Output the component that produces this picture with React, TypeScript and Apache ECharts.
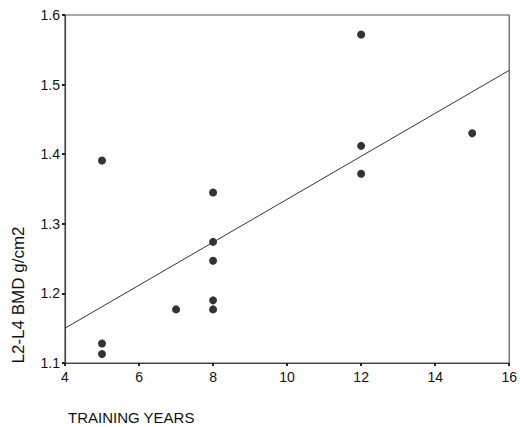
import React, { useEffect, useRef } from "react";
import * as echarts from "echarts";

const trainingYears = [5, 5, 5, 7, 8, 8, 8, 8, 8, 12, 12, 12, 15];
const bmdValues = [1.391, 1.128, 1.113, 1.177, 1.345, 1.274, 1.247, 1.19, 1.177, 1.572, 1.412, 1.372, 1.43];
const fitX = [4, 16];
const fitY = [1.15, 1.5205];
const xTicks = [4, 6, 8, 10, 12, 14, 16];
const yTicks = [1.1, 1.2, 1.3, 1.4, 1.5, 1.6];
const yLabel = "L2-L4 BMD g/cm2";
const xLabel = "TRAINING YEARS";

const FONT = "'Liberation Sans', Arial, sans-serif";

export default function App() {
  const ref = useRef<HTMLDivElement>(null);
  useEffect(() => {
    if (!ref.current) return;
    const chart = echarts.init(ref.current, null, { renderer: "svg" });
    const axisLine = { show: true, lineStyle: { color: "#444", width: 1.2 } };
    chart.setOption({
      animation: false,
      backgroundColor: "#fff",
      grid: {
        left: 65,
        top: 15,
        right: 8,
        bottom: 64,
        show: true,
        borderColor: "#555",
        borderWidth: 1.2,
        backgroundColor: "transparent",
      },
      xAxis: {
        type: "value",
        min: xTicks[0],
        max: xTicks[xTicks.length - 1],
        interval: 2,
        axisLine,
        axisTick: { show: true, length: 3, lineStyle: { color: "#222", width: 2 } },
        splitLine: { show: false },
        axisLabel: {
          color: "#111",
          fontFamily: FONT,
          fontSize: 14,
          margin: 7,
        },
      },
      yAxis: {
        type: "value",
        min: yTicks[0],
        max: yTicks[yTicks.length - 1],
        interval: 0.1,
        axisLine,
        axisTick: { show: true, length: 3, lineStyle: { color: "#222", width: 2 } },
        splitLine: { show: false },
        axisLabel: {
          color: "#111",
          fontFamily: FONT,
          fontSize: 14,
          margin: 5,
          formatter: (v: number) => v.toFixed(1),
        },
      },
      graphic: [
        {
          type: "text",
          x: 18,
          y: 295,
          rotation: Math.PI / 2,
          style: {
            text: yLabel,
            fill: "#111",
            font: `17px ${FONT}`,
            textAlign: "center",
            textVerticalAlign: "middle",
          },
        },
        {
          type: "text",
          x: 68,
          y: 417,
          style: {
            text: xLabel,
            fill: "#111",
            font: `15px ${FONT}`,
            textAlign: "left",
            textVerticalAlign: "middle",
          },
        },
      ],
      series: [
        {
          type: "line",
          data: fitX.map((x, i) => [x, fitY[i]]),
          symbol: "none",
          lineStyle: { color: "#333", width: 1 },
          silent: true,
        },
        {
          type: "scatter",
          data: trainingYears.map((x, i) => [x, bmdValues[i]]),
          symbol: "circle",
          symbolSize: 8,
          itemStyle: { color: "#000" },
        },
      ],
    });
    return () => chart.dispose();
  }, []);
  return (
    <div
      ref={ref}
      style={{ position: "fixed", left: 0, top: 0, width: 520, height: 427, background: "#fff" }}
    />
  );
}
